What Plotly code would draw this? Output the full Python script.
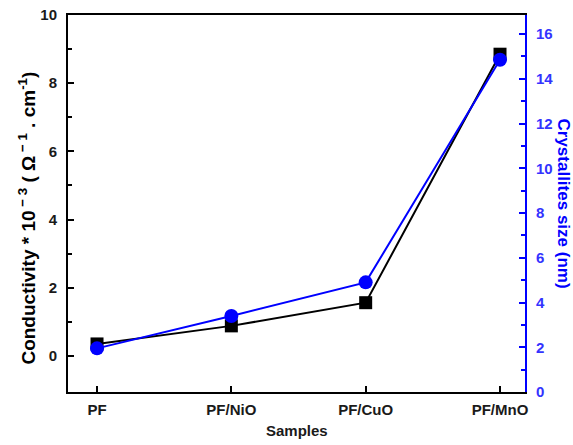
import plotly.graph_objects as go

samples = ["PF", "PF/NiO", "PF/CuO", "PF/MnO"]
conductivity = [0.35, 0.88, 1.56, 8.85]
crystallite_size = [1.95, 3.4, 4.9, 14.85]

x_pos = list(range(len(samples)))
font_family = "Liberation Sans, Arial, sans-serif"
blue = "#0000ff"

fig = go.Figure()
fig.add_trace(go.Scatter(
    x=x_pos, y=conductivity, mode="lines+markers",
    line=dict(color="black", width=2),
    marker=dict(symbol="square", size=13, color="black"),
    name="Conductivity", yaxis="y",
))
fig.add_trace(go.Scatter(
    x=x_pos, y=crystallite_size, mode="lines+markers",
    line=dict(color=blue, width=2),
    marker=dict(symbol="circle", size=14, color=blue),
    name="Crystallites size", yaxis="y2",
))

fig.update_layout(
    width=573, height=445,
    margin=dict(l=68, r=48, t=15, b=53),
    plot_bgcolor="white", paper_bgcolor="white",
    showlegend=False,
    font=dict(family=font_family, size=15, color="#1a1a1a"),
    xaxis=dict(
        range=[-0.216, 3.186], tickmode="array", tickvals=x_pos,
        ticktext=[f"<b>{s}</b>" for s in samples],
        showline=True, linecolor="black", linewidth=2, mirror=True,
        ticks="inside", ticklen=6, tickwidth=2, tickcolor="black",
        showgrid=False, zeroline=False, automargin=False,
        tickfont=dict(size=15, family=font_family),
        ticklabelstandoff=3,
    ),
    yaxis=dict(
        range=[-1.06, 10], tickvals=[0, 2, 4, 6, 8, 10],
        ticktext=["<b>0</b>", "<b>2</b>", "<b>4</b>", "<b>6</b>", "<b>8</b>", "<b>10</b>"],
        showline=True, linecolor="black", linewidth=2,
        ticks="inside", ticklen=6, tickwidth=2, tickcolor="black",
        minor=dict(tickvals=[1, 3, 5, 7, 9], ticks="inside", ticklen=4, tickwidth=2, tickcolor="black"),
        showgrid=False, zeroline=False, automargin=False,
        tickfont=dict(size=15, family=font_family),
        ticklabelstandoff=6,
    ),
    yaxis2=dict(
        range=[0, 16.85], tickvals=[0, 2, 4, 6, 8, 10, 12, 14, 16],
        ticktext=[f"<b>{v}</b>" for v in [0, 2, 4, 6, 8, 10, 12, 14, 16]],
        overlaying="y", side="right",
        showline=True, linecolor=blue, linewidth=2,
        ticks="inside", ticklen=6, tickwidth=2, tickcolor=blue,
        minor=dict(tickvals=[1, 3, 5, 7, 9, 11, 13, 15], ticks="inside", ticklen=4, tickwidth=2, tickcolor=blue),
        showgrid=False, zeroline=False, automargin=False,
        tickfont=dict(size=15, family=font_family, color="#3333ff"),
        ticklabelstandoff=6,
    ),
    annotations=[
        dict(
            text="<b>Samples</b>",
            xref="paper", yref="paper", x=0.5, y=0.0, yshift=-38,
            xanchor="center", yanchor="middle", showarrow=False,
            font=dict(size=15, color="#1a1a1a", family=font_family),
        ),
        dict(
            text="<b>Conductivity * 10<sup> − 3</sup> ( Ω<sup> − 1</sup> . cm<sup>-1</sup>)</b>",
            xref="paper", yref="paper", x=0.0, y=0.46, xshift=-41,
            xanchor="center", yanchor="middle",
            textangle=-90, showarrow=False,
            font=dict(size=19, color="black", family=font_family),
        ),
        dict(
            text="<b>Crystallites size (nm)</b>",
            xref="paper", yref="paper", x=1.0, y=0.5, xshift=38,
            xanchor="center", yanchor="middle",
            textangle=90, showarrow=False,
            font=dict(size=17, color=blue, family=font_family),
        ),
    ],
)

fig.write_html("out.html")
